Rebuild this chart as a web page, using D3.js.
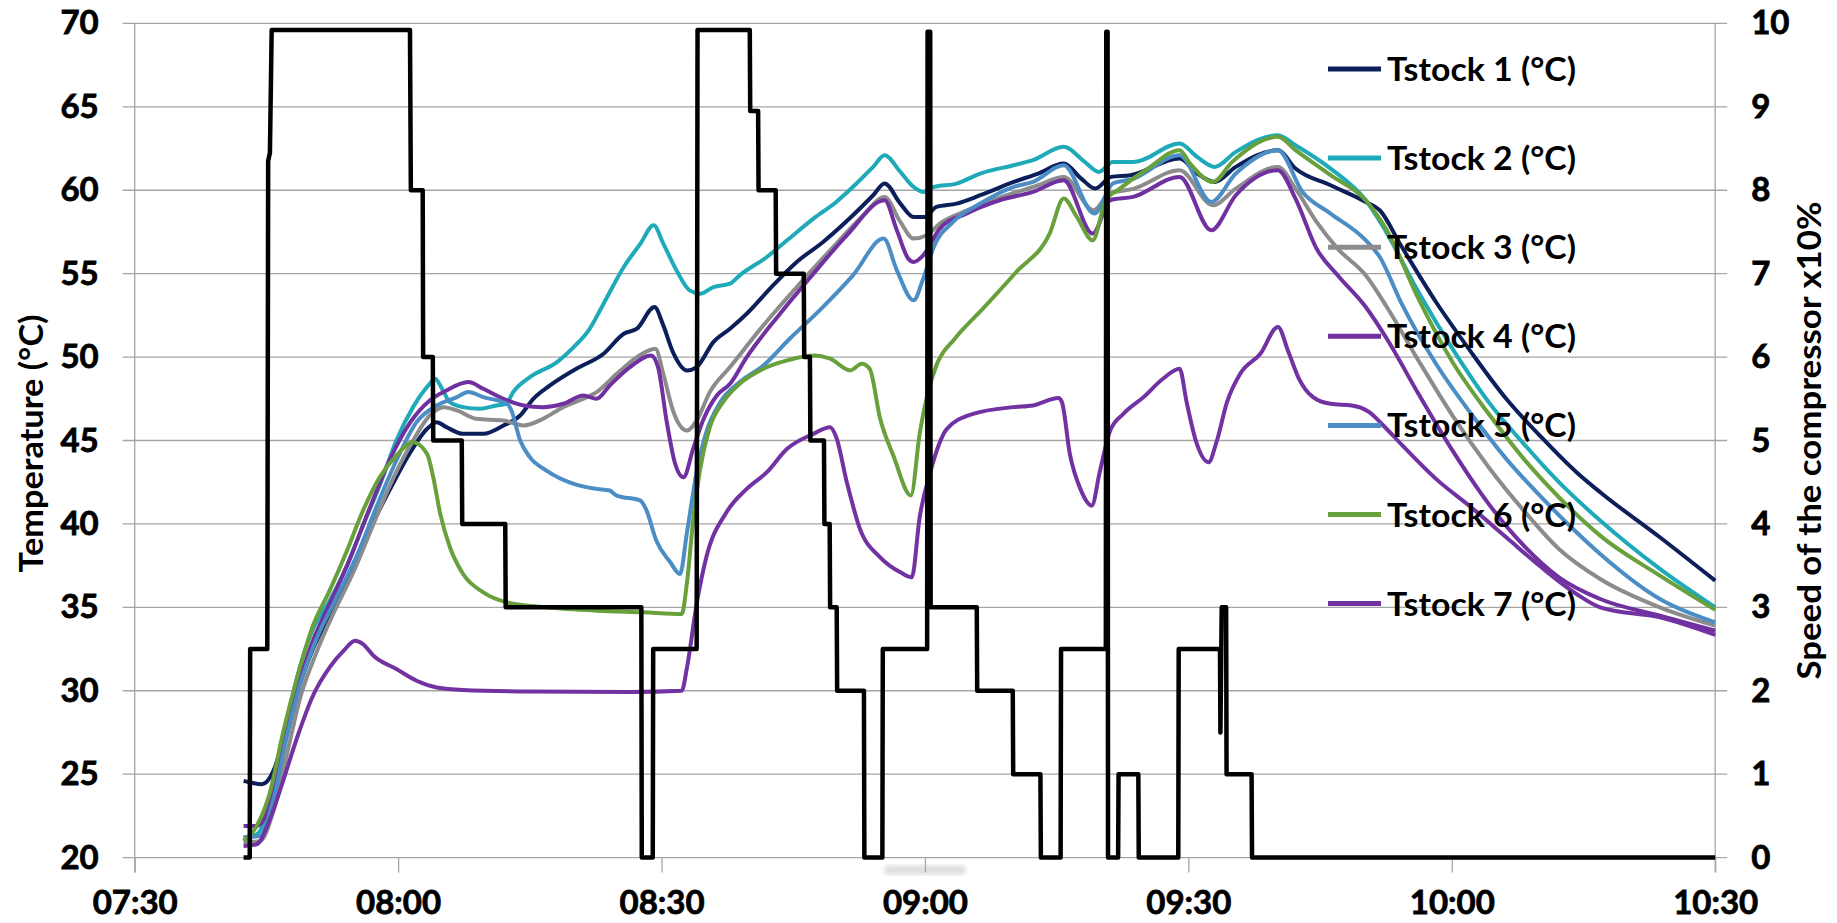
<!DOCTYPE html>
<html>
<head>
<meta charset="utf-8">
<script src="https://cdn.jsdelivr.net/npm/d3@7"></script>
<style>
  html, body { margin: 0; padding: 0; background: #fff; }
  #chart text { font-family: Lato, "Open Sans", sans-serif; font-weight: bold; fill: #000; }
  #chart .tick text { stroke: #000; stroke-width: 0.8px; }
</style>
</head>
<body>
<div id="chart"></div>
<script>
// time values are minutes elapsed since 07:30
var startClock = "07:30";
var xTickLabels = ["07:30", "08:00", "08:30", "09:00", "09:30", "10:00", "10:30"];
var tempTicks = [20, 25, 30, 35, 40, 45, 50, 55, 60, 65, 70];
var speedTicks = [0, 1, 2, 3, 4, 5, 6, 7, 8, 9, 10];
var seriesNames = ["Tstock 1 (°C)", "Tstock 2 (°C)", "Tstock 3 (°C)", "Tstock 4 (°C)", "Tstock 5 (°C)", "Tstock 6 (°C)", "Tstock 7 (°C)"];
var seriesColors = ["#0c1f5a", "#1eaab8", "#8c8c8c", "#7030a0", "#4b8dc5", "#68a03c", "#7232a2"];

var tstock1 = [[12.4,24.6],[14.5,24.4],[15.8,25.2],[16.9,27.0],[18.5,29.9],[20.3,32.5],[22.2,34.5],[24.5,37.0],[26.8,39.7],[29.1,42.1],[31.4,44.3],[33.3,45.7],[34.4,46.1],[35.5,45.8],[37.4,45.4],[39.7,45.4],[42.0,45.9],[43.9,46.5],[45.4,47.5],[47.3,48.3],[50.3,49.3],[53.4,50.2],[55.7,51.4],[57.2,51.7],[59.2,53.0],[60.2,51.9],[61.3,50.3],[62.9,49.2],[64.0,49.4],[65.9,50.9],[67.8,51.7],[69.7,52.6],[72.7,54.3],[75.4,55.7],[78.4,56.9],[81.8,58.5],[84.1,59.7],[85.4,60.4],[87.2,59.2],[88.7,58.4],[90.0,58.4],[91.3,59.0],[93.6,59.2],[96.3,59.7],[100.1,60.5],[102.9,61.0],[105.8,61.6],[107.8,60.7],[109.4,60.1],[111.2,60.8],[113.4,60.9],[119.0,61.9],[121.0,61.0],[123.0,60.5],[125.4,61.4],[130.2,62.4],[132.2,61.3],[136.2,60.3],[140.2,59.3],[141.8,58.8],[144.2,56.7],[148.2,53.3],[152.2,50.3],[156.2,47.5],[160.2,45.2],[164.2,43.1],[166.9,41.9],[173.7,39.2],[180,36.6]];
var tstock2 = [[12.4,21.2],[13.9,21.4],[15.4,23.2],[16.9,27.0],[18.4,30.6],[20.3,33.7],[22.2,35.4],[24.1,37.4],[26.0,39.9],[27.9,42.3],[29.8,45.0],[31.7,47.0],[33.6,48.4],[34.2,48.7],[35.1,48.0],[35.9,47.3],[37.4,47.0],[39.3,46.9],[41.2,47.1],[42.3,47.2],[43.1,47.9],[45.0,48.8],[48.1,49.7],[50.0,50.6],[51.7,51.6],[53.4,53.2],[55.7,55.4],[57.6,56.8],[59.1,57.9],[60.2,56.8],[61.7,55.2],[63.2,54.0],[64.4,53.8],[65.9,54.2],[67.8,54.4],[68.9,54.9],[72.0,56.0],[74.3,57.0],[77.3,58.3],[79.9,59.3],[82.2,60.4],[84.1,61.4],[85.4,62.1],[87.2,61.1],[88.7,60.2],[89.8,59.9],[91.0,60.2],[93.6,60.4],[96.3,61.0],[100.1,61.5],[102.3,61.8],[105.8,62.6],[108.2,61.7],[109.8,61.1],[111.4,61.7],[113.8,61.7],[119.0,62.8],[121.0,62.0],[123.0,61.4],[125.4,62.3],[130.2,63.3],[132.2,62.7],[136.2,61.3],[140.2,59.4],[142.2,57.8],[146.2,53.9],[150.2,50.4],[154.2,47.3],[158.2,44.8],[162.2,42.5],[166.9,40.2],[173.7,37.3],[180,35.0]];
var tstock3 = [[12.4,20.9],[14.3,21.0],[15.8,22.8],[17.3,26.1],[18.8,29.5],[20.7,32.3],[22.6,34.6],[24.9,37.1],[27.2,40.0],[29.5,42.8],[31.7,45.0],[33.6,46.5],[35.2,47.0],[36.7,46.8],[38.9,46.3],[42.0,46.2],[44.3,45.9],[46.5,46.3],[48.8,47.0],[51.1,47.5],[52.6,47.9],[54.9,49.0],[57.2,50.0],[59.3,50.5],[60.2,49.0],[61.3,46.8],[62.9,45.6],[64.0,46.2],[65.5,47.9],[67.8,49.4],[71.6,51.9],[75.4,54.2],[79.2,56.4],[83.0,58.5],[85.4,59.6],[87.2,58.1],[88.7,57.1],[90.2,57.3],[91.7,58.0],[94.4,58.7],[98.2,59.5],[102.9,60.3],[105.8,60.8],[109.2,58.8],[111.0,59.8],[113.8,60.1],[119.0,61.2],[122.8,59.1],[125.4,60.1],[130.2,61.4],[132.2,60.1],[134.6,58.1],[137.0,56.5],[140.2,54.9],[142.6,53.0],[146.2,49.8],[150.2,46.4],[154.2,43.4],[158.2,40.8],[162.2,38.5],[166.9,36.7],[173.7,35.0],[180,33.9]];
var tstock4 = [[12.4,21.9],[13.9,21.9],[15.4,23.2],[16.9,26.8],[18.5,30.1],[20.3,33.0],[22.2,35.2],[24.5,37.9],[26.8,41.0],[29.1,43.9],[31.4,46.1],[33.6,47.4],[35.5,48.0],[38.0,48.5],[39.7,48.1],[42.0,47.5],[44.3,47.1],[46.5,47.0],[48.8,47.2],[51.1,47.7],[52.6,47.5],[54.1,48.3],[56.4,49.4],[58.8,50.1],[59.6,49.4],[60.6,46.1],[61.5,43.7],[62.5,42.8],[63.6,44.5],[64.8,46.3],[66.3,47.7],[67.8,48.4],[69.7,50.0],[73.5,52.6],[77.3,55.0],[81.1,57.3],[85.4,59.4],[86.8,57.6],[88.1,55.9],[88.7,55.7],[89.8,56.1],[91.7,57.7],[94.7,58.6],[98.5,59.4],[102.3,59.9],[105.8,60.6],[109.1,57.4],[111.1,59.4],[113.7,59.6],[119.0,60.8],[122.6,57.6],[125.4,59.7],[130.2,61.2],[132.2,59.5],[134.6,56.5],[137.0,54.9],[140.2,53.0],[142.6,51.1],[146.2,47.8],[150.2,44.3],[154.2,41.2],[158.2,38.7],[162.2,36.8],[166.9,35.5],[173.7,34.5],[180,33.6]];
var tstock5 = [[12.4,21.2],[14.3,21.3],[15.8,23.5],[17.3,27.2],[18.8,30.3],[20.7,33.1],[23.0,35.6],[25.3,38.1],[27.6,41.1],[29.8,43.8],[32.1,46.1],[34.4,47.1],[36.7,47.6],[38.0,47.9],[39.7,47.6],[42.4,47.2],[42.9,46.8],[43.9,45.0],[45.0,44.0],[46.9,43.2],[50.0,42.4],[52.6,42.1],[54.1,42.0],[54.9,41.7],[57.6,41.4],[58.3,40.8],[59.4,39.0],[61.0,37.7],[62.1,37.0],[62.9,39.5],[64.0,43.1],[65.1,45.5],[66.7,47.3],[68.9,48.5],[71.6,49.5],[74.6,51.1],[78.0,52.8],[81.8,54.9],[85.3,57.1],[86.8,55.2],[88.7,53.4],[89.8,54.7],[91.0,56.6],[93.2,58.1],[96.3,59.2],[100.1,60.2],[102.3,60.5],[105.8,61.5],[109.3,58.6],[111.4,60.4],[113.8,60.7],[119.0,62.1],[122.6,59.3],[125.4,61.0],[130.2,62.4],[133.0,59.9],[136.2,58.6],[140.2,57.0],[141.8,56.0],[144.2,53.3],[148.2,49.6],[152.2,46.6],[156.2,43.9],[160.2,41.6],[164.2,39.5],[166.9,38.2],[173.7,35.5],[180,34.1]];
var tstock6 = [[12.4,21.0],[13.9,21.9],[15.4,23.9],[16.9,27.5],[18.5,30.8],[20.3,33.9],[22.2,36.0],[24.1,38.3],[26.0,40.8],[27.9,42.8],[29.8,44.1],[31.7,44.9],[33.3,44.2],[34.0,42.8],[34.8,40.6],[35.9,38.6],[37.4,37.0],[39.7,35.9],[42.4,35.3],[46.9,35.0],[52.6,34.8],[57.9,34.7],[62.3,34.6],[62.9,36.5],[63.6,40.2],[64.4,43.3],[65.5,45.8],[67.0,47.3],[68.9,48.4],[71.6,49.3],[74.3,49.8],[77.3,50.1],[79.2,49.9],[81.5,49.2],[82.8,49.6],[83.7,49.3],[84.9,46.3],[86.4,44.1],[88.4,41.7],[89.4,45.4],[90.4,48.0],[91.3,49.5],[93.4,51.1],[96.6,52.9],[100.4,55.1],[104.2,57.4],[105.8,59.5],[107.3,58.4],[109.1,57.0],[110.6,59.4],[112.2,60.1],[115.4,61.3],[119.0,62.4],[120.2,61.6],[122.8,60.5],[125.0,61.7],[130.2,63.2],[132.2,62.4],[136.2,60.9],[140.2,59.4],[142.6,57.6],[146.2,53.5],[150.2,49.6],[154.2,46.6],[158.2,43.9],[162.2,41.6],[166.9,39.3],[173.7,36.9],[180,34.85]];
var tstock7 = [[12.4,20.7],[13.9,20.8],[15.4,22.3],[16.9,24.6],[18.5,27.2],[20.3,29.7],[22.2,31.4],[23.8,32.4],[25.1,33.0],[26.0,32.8],[27.2,32.1],[29.8,31.3],[32.1,30.6],[34.4,30.2],[37.4,30.05],[45.0,29.96],[56.4,29.93],[62.3,30.0],[62.9,31.4],[64.0,35.2],[65.1,38.0],[67.4,40.7],[69.7,42.1],[72.0,43.1],[74.3,44.5],[77.3,45.4],[79.2,45.8],[79.9,45.2],[81.1,42.5],[82.6,39.7],[84.9,38.0],[87.2,37.1],[88.5,36.8],[89.4,40.4],[90.6,43.1],[92.5,45.7],[95.5,46.6],[100.1,47.0],[102.3,47.1],[105.2,47.55],[105.6,47.3],[106.5,44.2],[107.7,42.1],[109.0,41.1],[109.9,43.1],[111.1,45.6],[112.6,46.6],[114.9,47.6],[117.1,48.7],[119.0,49.3],[119.8,47.3],[120.9,44.9],[122.3,43.7],[123.2,44.9],[124.4,47.3],[125.9,49.0],[128.2,50.2],[130.2,51.8],[131.4,50.3],[132.6,48.7],[134.2,47.6],[136.2,47.2],[138.6,47.1],[140.6,46.7],[142.2,45.9],[144.2,44.8],[148.2,42.7],[152.2,41.0],[156.2,39.2],[160.2,37.4],[164.2,35.8],[166.9,35.0],[173.7,34.4],[180,33.35]];
// compressor speed (x10%), right axis
var compressor = [[12.4,0],[13.1,0],[13.15,2.5],[15.1,2.5],[15.2,8.35],[15.4,8.45],[15.6,9.92],[31.35,9.92],[31.45,8],[32.8,8],[32.85,6],[33.95,6],[34.0,5],[37.25,5],[37.3,4],[42.2,4],[42.25,3],[57.7,3],[57.75,0],[59.0,0],[59.05,2.5],[64.0,2.5],[64.1,9.92],[70.05,9.92],[70.1,8.95],[71.0,8.95],[71.05,8],[73.0,8],[73.05,7],[76.2,7],[76.25,6],[76.9,6],[76.95,5],[78.5,5],[78.55,4],[79.15,4],[79.2,3],[79.95,3],[80.0,2],[83.05,2],[83.1,0],[85.15,0],[85.2,2.5],[90.25,2.5],[90.3,9.9],[90.6,9.9],[90.65,3],[95.9,3],[95.95,2],[100.0,2],[100.05,1],[103.15,1],[103.2,0],[105.45,0],[105.5,2.5],[110.6,2.5],[110.65,9.9],[110.8,9.9],[110.85,0],[112.0,0],[112.05,1],[114.3,1],[114.35,0],[118.85,0],[118.9,2.5],[123.6,2.5],[123.65,1.5],[123.8,3],[124.3,3],[124.35,1],[127.2,1],[127.25,0],[180,0]];

var allSeries = [tstock1, tstock2, tstock3, tstock4, tstock5, tstock6, tstock7];

var margin = {top: 23.4, right: 121.8, bottom: 65.4, left: 134.7};
var viewportwidth = 1837, viewportheight = 923;
var width = viewportwidth - margin.left - margin.right;
var height = viewportheight - margin.top - margin.bottom;
var gridcolor = "#a6a6a6";

var parseClock = d3.timeParse("%H:%M");
var t0 = parseClock(startClock);
function toTime(m) { return new Date(t0.getTime() + m * 60000); }

var x = d3.scaleTime()
    .domain([parseClock(xTickLabels[0]), parseClock(xTickLabels[xTickLabels.length - 1])])
    .range([0, width]);
var yT = d3.scaleLinear().domain([20, 70]).range([height, 0]);
var yS = d3.scaleLinear().domain([0, 10]).range([height, 0]);

var svg = d3.select("#chart").append("svg")
    .attr("width", viewportwidth)
    .attr("height", viewportheight);

var defs = svg.append("defs");
defs.append("filter").attr("id", "smudge")
    .append("feGaussianBlur").attr("stdDeviation", 2.5);

var g = svg.append("g").attr("transform", "translate(" + margin.left + "," + margin.top + ")");

// horizontal gridlines, with small ticks outside both sides
g.append("g").selectAll("line")
    .data(tempTicks)
    .enter().append("line")
        .attr("x1", -12).attr("x2", width + 12)
        .attr("y1", function(d) { return yT(d); })
        .attr("y2", function(d) { return yT(d); })
        .attr("stroke", gridcolor).attr("stroke-width", 1.3);

// vertical axis lines at both ends
g.append("g").selectAll("line")
    .data([0, width])
    .enter().append("line")
        .attr("x1", function(d) { return d; }).attr("x2", function(d) { return d; })
        .attr("y1", 0).attr("y2", height + 15)
        .attr("stroke", gridcolor).attr("stroke-width", 1.3);

// faint smudge under 09:00 label
g.append("rect")
    .attr("x", x(parseClock("09:00")) - 40).attr("y", height + 8)
    .attr("width", 80).attr("height", 9)
    .attr("fill", "#dcdcdc")
    .attr("filter", "url(#smudge)");

var xaxis = g.append("g")
    .attr("class", "x-axis")
    .attr("transform", "translate(0," + height + ")")
    .call(d3.axisBottom(x)
        .tickValues(xTickLabels.map(parseClock))
        .tickFormat(d3.timeFormat("%H:%M"))
        .tickSizeInner(15).tickSizeOuter(0).tickPadding(18));
xaxis.select(".domain").remove();
xaxis.selectAll("line").attr("stroke", gridcolor).attr("stroke-width", 1.3);
xaxis.selectAll("text").attr("font-size", "33px");

var yaxis = g.append("g")
    .attr("class", "y-axis")
    .call(d3.axisLeft(yT).tickValues(tempTicks).tickSize(12).tickPadding(24));
yaxis.select(".domain").remove();
yaxis.selectAll("line").remove();
yaxis.selectAll("text").attr("font-size", "33px");

var yaxis2 = g.append("g")
    .attr("class", "y-axis-right")
    .attr("transform", "translate(" + width + ",0)")
    .call(d3.axisRight(yS).tickValues(speedTicks).tickSize(12).tickPadding(24));
yaxis2.select(".domain").remove();
yaxis2.selectAll("line").remove();
yaxis2.selectAll("text").attr("font-size", "33px");

// axis titles
svg.append("text")
    .attr("transform", "translate(43," + (margin.top + height / 2 + 3) + ") rotate(-90)")
    .attr("text-anchor", "middle")
    .attr("font-size", "33px")
    .attr("textLength", 258).attr("lengthAdjust", "spacingAndGlyphs")
    .text("Temperature (°C)");
svg.append("text")
    .attr("transform", "translate(1821," + (margin.top + height / 2) + ") rotate(-90)")
    .attr("text-anchor", "middle")
    .attr("font-size", "33px")
    .attr("textLength", 478).attr("lengthAdjust", "spacingAndGlyphs")
    .text("Speed of the compressor x10%");

var tempLine = d3.line()
    .x(function(d) { return x(toTime(d[0])); })
    .y(function(d) { return yT(d[1]); })
    .curve(d3.curveMonotoneX);

g.append("g").selectAll("path")
    .data(allSeries)
    .enter().append("path")
        .attr("d", tempLine)
        .attr("fill", "none")
        .attr("stroke", function(d, i) { return seriesColors[i]; })
        .attr("stroke-width", 4)
        .attr("stroke-linejoin", "round");

var speedLine = d3.line()
    .x(function(d) { return x(toTime(d[0])); })
    .y(function(d) { return yS(d[1]); });

g.append("path")
    .datum(compressor)
    .attr("d", speedLine)
    .attr("fill", "none")
    .attr("stroke", "#000")
    .attr("stroke-width", 4.5)
    .attr("stroke-linejoin", "round");

// legend (temperature series only)
var legend = svg.append("g").attr("transform", "translate(1328,69)");
var items = legend.selectAll("g")
    .data(seriesNames)
    .enter().append("g")
        .attr("transform", function(d, i) { return "translate(0," + (i * 89.1) + ")"; });
items.append("line")
    .attr("x1", 0).attr("x2", 53).attr("y1", 0).attr("y2", 0)
    .attr("stroke", function(d, i) { return seriesColors[i]; })
    .attr("stroke-width", 5);
items.append("text")
    .attr("x", 59).attr("y", 12)
    .attr("font-size", "33px")
    .attr("textLength", 189).attr("lengthAdjust", "spacingAndGlyphs")
    .text(function(d) { return d; });
</script>
</body>
</html>
